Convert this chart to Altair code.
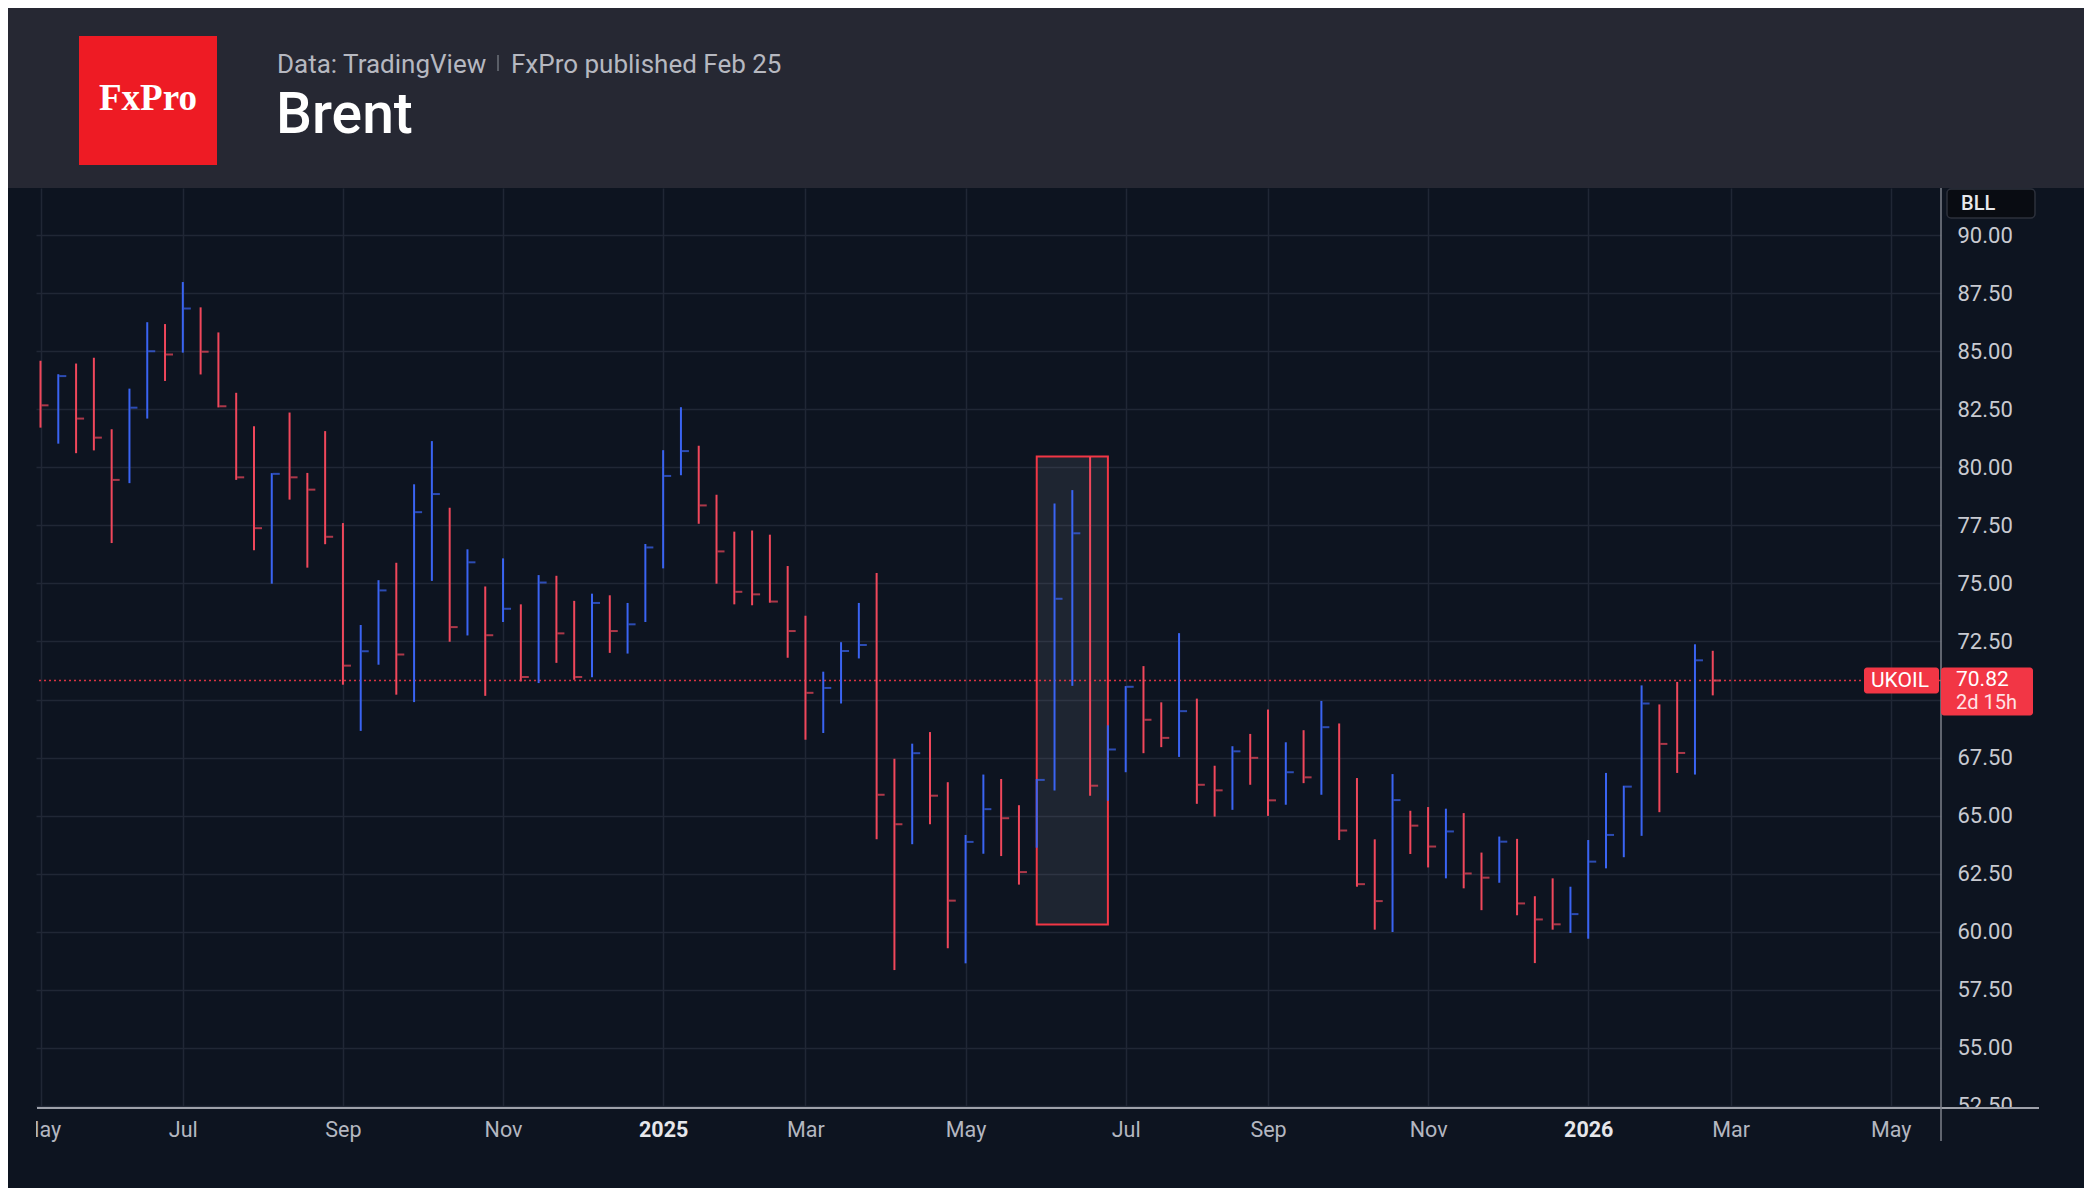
import altair as alt
import pandas as pd

# ---------------- data (weekly HLC bars, Brent / UKOIL) ----------------
first_week = "2024-05-06"
highs = [84.59, 84.01, 84.47, 84.72, 81.64, 83.39, 86.25, 86.17, 87.98, 86.89,
         85.81, 83.21, 81.77, 79.75, 82.36, 79.76, 81.56, 77.60, 73.21, 75.14,
         75.89, 79.27, 81.13, 78.26, 76.47, 74.87, 76.08, 74.10, 75.36, 75.33,
         74.25, 74.56, 74.49, 74.16, 76.70, 80.74, 82.59, 80.93, 78.82, 77.23,
         77.28, 77.10, 75.75, 73.61, 71.20, 72.47, 74.16, 75.45, 67.45, 68.10,
         68.60, 66.44, 64.17, 66.77, 66.58, 65.45, 66.58, 78.44, 79.02, 80.45,
         68.89, 70.58, 71.44, 69.88, 72.86, 70.04, 67.15, 67.99, 68.52, 69.57,
         68.16, 68.68, 69.94, 68.97, 66.62, 63.98, 66.79, 65.21, 65.37, 65.30,
         65.11, 63.41, 64.10, 64.00, 61.53, 62.30, 61.94, 63.95, 66.84, 66.29,
         70.61, 69.79, 70.76, 72.38, 72.10]
lows = [81.71, 81.02, 80.61, 80.73, 76.74, 79.32, 82.10, 83.72, 84.94, 84.00,
        82.58, 79.46, 76.43, 74.99, 78.61, 75.68, 76.69, 70.64, 68.65, 71.50,
        70.21, 69.89, 75.11, 72.49, 72.76, 70.16, 73.34, 70.78, 70.71, 71.58,
        70.85, 70.96, 72.01, 71.98, 73.34, 75.65, 79.66, 77.57, 74.99, 74.10,
        74.06, 74.17, 71.80, 68.27, 68.56, 69.83, 71.77, 63.98, 58.35, 63.77,
        64.63, 59.29, 58.64, 63.36, 63.26, 62.03, 63.62, 66.08, 70.59, 65.86,
        65.64, 66.87, 67.69, 67.95, 67.53, 65.51, 64.96, 65.25, 66.33, 64.99,
        65.47, 66.40, 65.90, 63.95, 61.94, 60.09, 59.99, 63.35, 62.77, 62.30,
        61.87, 60.93, 62.11, 60.71, 58.65, 60.09, 59.95, 59.70, 62.73, 63.21,
        64.13, 65.15, 66.84, 66.77, 70.18]
closes = [82.67, 83.93, 82.10, 81.28, 79.46, 82.57, 85.00, 84.86, 86.84, 84.98,
          82.63, 79.57, 77.38, 79.72, 79.57, 79.04, 77.01, 71.46, 72.08, 74.70,
          71.94, 78.07, 78.85, 73.12, 75.91, 72.77, 73.91, 70.97, 75.04, 72.85,
          70.97, 74.16, 72.95, 73.24, 76.55, 79.63, 80.70, 78.36, 76.38, 74.64,
          74.53, 74.22, 72.95, 70.29, 70.50, 72.09, 72.35, 65.90, 64.63, 67.69,
          65.86, 61.34, 63.87, 65.28, 64.89, 62.57, 66.54, 74.34, 77.16, 66.29,
          67.85, 70.55, 69.13, 68.35, 69.50, 66.33, 66.09, 67.77, 67.49, 65.66,
          66.87, 66.65, 68.81, 64.36, 62.05, 61.32, 65.67, 64.57, 63.67, 64.32,
          62.51, 62.33, 63.88, 61.22, 60.53, 60.32, 60.76, 63.02, 64.17, 66.25,
          69.83, 68.09, 67.70, 71.69, 70.82]
close_before_first = 83.05

# x-axis tick dates (first weekly bar of each labelled month)
tick_dates = ["2024-05-06", "2024-07-01", "2024-09-02", "2024-11-04", "2025-01-06",
              "2025-03-03", "2025-05-05", "2025-07-07", "2025-09-01", "2025-11-03",
              "2026-01-05", "2026-03-02", "2026-05-04"]
price_ticks = [52.5, 55.0, 57.5, 60.0, 62.5, 65.0, 67.5, 70.0, 72.5, 75.0,
               77.5, 80.0, 82.5, 85.0, 87.5, 90.0]
hidden_price_label = 70.0   # covered by the last-price tag in the original

# highlighted rectangle (June 2025)
box_start, box_end = ["2025-06-02"], ["2025-06-30"]
box_low, box_high = [60.31], [80.47]

symbol = "UKOIL"
countdown = "2d 15h"

# ---------------- styles ----------------
BG = "#0d1420"
HEADER = "#262833"
GRID = "#202735"
RED = "#f0475b"
BLUE = "#3a64f2"
LABEL_RED = "#f23645"
AXIS_TXT = "#c8cad1"
FONT = "Roboto"

W, H = 1905, 920
Y_DOM = [52.41, 92.03]

week_ms = 7 * 86400000
t0 = pd.Timestamp(first_week, tz="UTC").value // 10**6
X_DOM = [t0 - 0.253 * week_ms, t0 + 106.83 * week_ms]

dates = pd.date_range(first_week, periods=len(closes), freq="7D")
prev = [close_before_first] + closes[:-1]
direction = ["up" if c > p else "down" for c, p in zip(closes, prev)]
df = pd.DataFrame({
    "date": dates.strftime("%Y-%m-%d"),
    "high": highs, "low": lows, "close": closes, "dir": direction,
})

tick_ms = [pd.Timestamp(d, tz="UTC").value // 10**6 for d in tick_dates]

xscale = alt.Scale(type="utc", domain=X_DOM)
yscale = alt.Scale(domain=Y_DOM, zero=False, nice=False)

xaxis = alt.Axis(
    values=tick_ms, title=None, domain=False, ticks=False, tickSize=0,
    grid=True, gridColor=GRID, gridWidth=1.5,
    labelExpr="utcmonth(datum.value) == 0 ? utcFormat(datum.value, '%Y') : utcFormat(datum.value, '%b')",
    labelFont=FONT, labelFontSize=21.5, labelBaseline="middle", labelPadding=22,
    labelColor={"condition": {"test": "utcmonth(datum.value) == 0", "value": "#e6e7eb"}, "value": "#b4b7c0"},
    labelFontWeight={"condition": {"test": "utcmonth(datum.value) == 0", "value": "bold"}, "value": "normal"},
    labelOverlap=False, labelFlush=False,
)
yaxis = alt.Axis(
    orient="right", values=price_ticks, title=None,
    labelExpr=f"datum.value == {hidden_price_label} ? '' : format(datum.value, '.2f')",
    domain=False, ticks=False, tickSize=0,
    grid=True, gridColor=GRID, gridWidth=1.5,
    labelFont=FONT, labelFontSize=22, labelColor=AXIS_TXT,
    labelAlign="left", labelBaseline="middle", labelPadding=16,
    labelOverlap=False, labelFlush=False,
)

color = alt.Color("dir:N", scale=alt.Scale(domain=["up", "down"], range=[BLUE, RED]), legend=None)

one = pd.DataFrame({"k": [0]})


def deco():
    return alt.Chart(one)


def ypx(p):
    return (Y_DOM[1] - p) / (Y_DOM[1] - Y_DOM[0]) * H


# header band and texts
header = deco().mark_rect(color=HEADER).encode(
    x=alt.value(-28), x2=alt.value(2050), y=alt.value(-182), y2=alt.value(0))
logo = deco().mark_rect(color="#ee1b24").encode(
    x=alt.value(43), x2=alt.value(181), y=alt.value(-152), y2=alt.value(-23))
logo_txt = deco().mark_text(text="FxPro", font="Liberation Serif", fontSize=37, fontWeight="bold",
                            color="white", align="center", baseline="middle").encode(
    x=alt.value(112), y=alt.value(-89))
src_txt = deco().mark_text(text="Data: TradingView", font=FONT, fontSize=26, color="#b6b8c0",
                           align="left", baseline="alphabetic").encode(x=alt.value(241), y=alt.value(-115))
sep = deco().mark_rule(color="#6d707a", strokeWidth=1.5).encode(
    x=alt.value(462), y=alt.value(-133), y2=alt.value(-117))
pub_txt = deco().mark_text(text="FxPro published Feb 25", font=FONT, fontSize=26, color="#b6b8c0",
                           align="left", baseline="alphabetic").encode(x=alt.value(475), y=alt.value(-115))
title_txt = deco().mark_text(text="Brent", font=FONT, fontSize=57, fontWeight=500, color="white",
                             align="left", baseline="alphabetic").encode(x=alt.value(240), y=alt.value(-55))

# base bars
base = alt.Chart(df).encode(x=alt.X("date:T", scale=xscale, axis=xaxis))
wicks = base.mark_rule(strokeWidth=2).encode(
    y=alt.Y("low:Q", scale=yscale, axis=yaxis), y2="high:Q", color=color)
ticks = base.mark_tick(orient="horizontal", size=7, thickness=2, xOffset=4.5).encode(
    y=alt.Y("close:Q"), color=color)

# highlight box
box_df = pd.DataFrame({"x1": box_start, "x2": box_end, "lo": box_low, "hi": box_high})
box = alt.Chart(box_df).mark_rect(fill="#787b86", fillOpacity=0.17, stroke=LABEL_RED, strokeWidth=2).encode(
    x="x1:T", x2="x2:T", y="lo:Q", y2="hi:Q")

# last price dotted line
last = closes[-1]
pline = deco().mark_rule(color=LABEL_RED, strokeWidth=1.5, strokeDash=[2, 3], opacity=0.9).encode(
    y=alt.datum(last))

# axis lines
xline = deco().mark_rule(color="#9ea1aa", strokeWidth=2).encode(
    x=alt.value(1), x2=alt.value(2003), y=alt.value(H), y2=alt.value(H))
yline = deco().mark_rule(color="#7d808a", strokeWidth=1.5).encode(
    x=alt.value(W), x2=alt.value(W), y=alt.value(0), y2=alt.value(H + 33))
mask_bottom = deco().mark_rect(color=BG).encode(
    x=alt.value(W + 2), x2=alt.value(2010), y=alt.value(H + 1), y2=alt.value(H + 30))
mask_left = deco().mark_rect(color=BG).encode(
    x=alt.value(-28), x2=alt.value(0), y=alt.value(H + 1), y2=alt.value(H + 60))

# price labels
yl = ypx(last)
sym_box = deco().mark_rect(color=LABEL_RED, cornerRadius=3).encode(
    x=alt.value(W - 77), x2=alt.value(W - 2), y=alt.value(yl - 13), y2=alt.value(yl + 13))
sym_txt = deco().mark_text(text=symbol, font=FONT, fontSize=21, color="white",
                           align="left", baseline="middle").encode(x=alt.value(W - 70), y=alt.value(yl))
price_box = deco().mark_rect(color=LABEL_RED, cornerRadius=3).encode(
    x=alt.value(W), x2=alt.value(W + 92), y=alt.value(yl - 13), y2=alt.value(yl + 35))
price_txt = deco().mark_text(text=f"{last:.2f}", font=FONT, fontSize=21, color="white",
                             align="left", baseline="middle").encode(x=alt.value(W + 15), y=alt.value(yl - 1))
cd_txt = deco().mark_text(text=countdown, font=FONT, fontSize=20, color="#ffe1e4",
                          align="left", baseline="middle").encode(x=alt.value(W + 15), y=alt.value(yl + 22.5))

# "BLL" tag at top of the price scale
bll_box = deco().mark_rect(color="#090c12", stroke="#2c303b", strokeWidth=1.5, cornerRadius=4).encode(
    x=alt.value(W + 6), x2=alt.value(W + 94), y=alt.value(1), y2=alt.value(30))
bll_txt = deco().mark_text(text="BLL", font=FONT, fontSize=20, fontWeight=500, color="#e8e9ec",
                           align="left", baseline="middle").encode(x=alt.value(W + 20), y=alt.value(15.5))

chart = alt.layer(
    box, pline, wicks, ticks,
    xline, yline, mask_bottom, mask_left,
    sym_box, sym_txt, price_box, price_txt, cd_txt,
    bll_box, bll_txt,
    header, logo, logo_txt, src_txt, sep, pub_txt, title_txt,
).properties(
    width=W, height=H,
    autosize=alt.AutoSizeParams(type="none"),
    padding={"left": 28, "top": 180, "right": 143, "bottom": 80},
    background=BG,
).configure_view(stroke=None)

chart.save("out.html", embed_options={"renderer": "svg", "actions": False})
